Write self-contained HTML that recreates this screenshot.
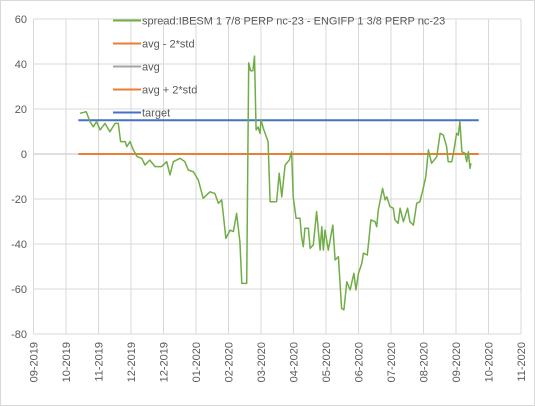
<!DOCTYPE html>
<html><head><meta charset="utf-8"><style>
html,body{margin:0;padding:0;background:#fff}
svg{display:block;font-family:"Liberation Sans",Arial,sans-serif}
</style></head><body>
<svg id="chart" width="535" height="406" viewBox="0 0 535 406">
<rect x="0.5" y="0.5" width="534" height="405" fill="#fff" stroke="#d9d9d9"/>
<g id="grid"></g>
<g id="yaxis"></g>
<g id="xaxis"></g>
<g id="series"></g>
<g id="legend"></g>
</svg>
<script>
const xTickLabels = ["09-2019","10-2019","11-2019","12-2019","12-2019","01-2020","02-2020","03-2020","04-2020","05-2020","06-2020","07-2020","08-2020","09-2020","10-2020","11-2020"];
const yTicks = [60,40,20,0,-20,-40,-60,-80];
const spreadX = [1.43,1.62,1.74,1.84,1.94,2.05,2.20,2.35,2.51,2.61,2.68,2.82,2.87,2.97,3.07,3.19,3.33,3.43,3.58,3.74,3.94,4.10,4.20,4.30,4.51,4.66,4.76,4.92,5.07,5.22,5.43,5.58,5.69,5.79,5.92,6.05,6.15,6.25,6.35,6.41,6.51,6.56,6.62,6.68,6.75,6.80,6.85,6.91,6.97,7.00,7.07,7.22,7.28,7.48,7.56,7.64,7.74,7.87,7.94,7.99,8.08,8.20,8.25,8.30,8.35,8.46,8.51,8.61,8.71,8.82,8.87,8.92,8.97,9.07,9.21,9.28,9.38,9.48,9.55,9.64,9.74,9.86,9.92,10.0,10.10,10.15,10.27,10.38,10.51,10.56,10.61,10.74,10.82,10.87,10.97,11.07,11.12,11.22,11.28,11.38,11.51,11.58,11.69,11.79,11.89,11.99,12.07,12.15,12.25,12.41,12.51,12.61,12.71,12.76,12.87,12.92,13.02,13.07,13.12,13.18,13.28,13.33,13.38,13.43,13.46];
const spreadY = [18.1,18.8,14.4,12.1,14.4,10.7,13.6,9.9,13.6,13.6,5.5,5.5,3.3,5.5,1.8,-1.2,-1.9,-4.9,-2.7,-5.6,-5.6,-3.4,-9.3,-3.4,-1.9,-3.4,-7.1,-7.9,-11.6,-19.7,-16.8,-17.5,-21.9,-20.4,-37.5,-33.8,-34.5,-26.4,-39,-57.5,-57.5,-57.5,40.5,37,37,43.5,10.7,12,9.2,15.3,11.4,5.5,-21.2,-21.2,-8.6,-19,-4.9,-2.7,1,-19,-28.6,-28.6,-36.8,-41.2,-33,-33,-41.9,-40.4,-25.6,-42.7,-32.3,-42.7,-33.8,-42.7,-31.6,-47.1,-45.6,-68.6,-69.3,-56.8,-60.4,-53,-60.4,-53,-48.6,-44.1,-44.9,-29.3,-30.1,-32.3,-24.9,-15.3,-20.4,-19,-23.4,-24.1,-29.3,-30.8,-24.1,-30.1,-24.1,-30.1,-31.6,-21.9,-21.2,-15.3,-10.1,1.8,-4.1,-1.2,9.2,8.4,3.3,-3.4,-3.4,0.3,9.2,8.4,14.4,1,0.3,-3.4,1,-6.4,-4.1];
const lineStart = [1.38];
const lineEnd = [13.7];
const targetValue = [15];
const bandValue = [0];

const L=33.5,R=521,T=19,B=334;
const xs = i => L + i*(R-L)/(xTickLabels.length-1);
const ys = v => T + (60-v)*(B-T)/140;
const NS="http://www.w3.org/2000/svg";
function mk(tag,attrs,parent){const e=document.createElementNS(NS,tag);for(const k in attrs)e.setAttribute(k,attrs[k]);parent.appendChild(e);return e;}
const grid=document.getElementById('grid'),yax=document.getElementById('yaxis'),xax=document.getElementById('xaxis'),ser=document.getElementById('series'),leg=document.getElementById('legend');
yTicks.forEach(v=>{
  const g=mk('line',{x1:L,x2:R,y1:ys(v),y2:ys(v),stroke:v===0?'#bfbfbf':'#d9d9d9','stroke-width':1},grid);
  
  
  const t=mk('text',{x:27,y:ys(v)+4,'text-anchor':'end','font-size':11,fill:'#595959'},yax);
  t.textContent=v;
  
  
});
xTickLabels.forEach((lab,i)=>{
  const g=mk('line',{x1:xs(i),x2:xs(i),y1:T,y2:B,stroke:'#d9d9d9','stroke-width':1},grid);
  
  
  const t=mk('text',{x:0,y:0,'text-anchor':'end','font-size':11,fill:'#595959',transform:`translate(${xs(i)+4},342) rotate(-90)`},xax);
  t.textContent=lab;
  
  
});
const a=mk('line',{x1:xs(lineStart[0]),x2:xs(lineEnd[0]),y1:ys(bandValue[0]),y2:ys(bandValue[0]),stroke:'#ed7d31','stroke-width':2},ser);


const tg=mk('line',{x1:xs(lineStart[0]),x2:xs(lineEnd[0]),y1:ys(targetValue[0]),y2:ys(targetValue[0]),stroke:'#4472c4','stroke-width':2},ser);


const pts=spreadX.map((x,i)=>xs(x).toFixed(1)+','+ys(spreadY[i]).toFixed(1)).join(' ');
const sp=mk('polyline',{points:pts,fill:'none',stroke:'#70ad47','stroke-width':1.5,'stroke-linejoin':'round'},ser);


const legendItems=[["spread:IBESM 1 7/8 PERP nc-23 - ENGIFP 1 3/8 PERP nc-23","#70ad47"],["avg - 2*std","#ed7d31"],["avg","#a5a5a5"],["avg + 2*std","#ed7d31"],["target","#4472c4"]];
legendItems.forEach((it,i)=>{
  const y=20.5+i*23;
  const l=mk('line',{x1:113,x2:141,y1:y,y2:y,stroke:it[1],'stroke-width':2},leg);
  
  
  const t=mk('text',{x:142,y:y+4,'font-size':11,fill:'#595959'},leg);
  t.textContent=it[0];
  
  
});
</script>
</body></html>
